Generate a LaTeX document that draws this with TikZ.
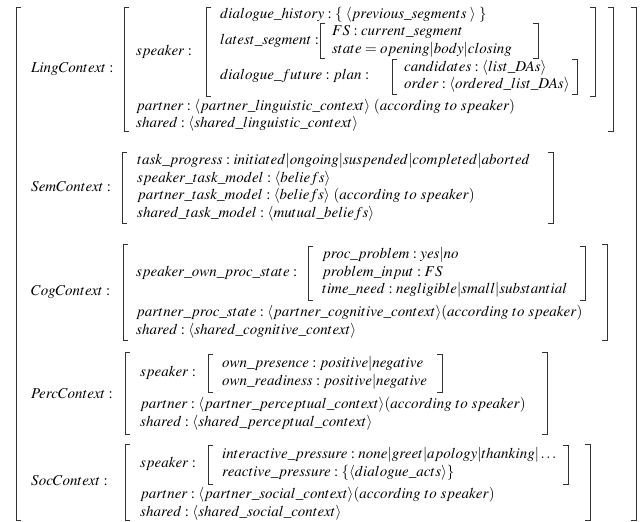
\documentclass[tikz,border=0pt]{standalone}
\usepackage{mathptmx}
\usepackage{fontspec}
\setmainfont{Liberation Serif}
\usepackage{tikz}

\begin{document}
\begin{tikzpicture}[
        x=1pt, y=-1pt,
        avm/.style={anchor=west, inner sep=0pt, font=\fontsize{15}{17}\selectfont},
        brk/.style={line width=0.7pt, black!80}
    ]
        \useasboundingbox (0,0) rectangle (641,522);

        % outer matrix
        \draw[brk] (21,7) -| (16,520) -- (21,520);
        \draw[brk] (631,7) -| (636,520) -- (631,520);

        % linguistic context
        \node[avm] (ling) at (31,69) {$LingContext :$};
        \draw[brk] (129,7) -| (124,131) -- (129,131);
        \draw[brk] (608,7) -| (613,131) -- (608,131);
        \node[avm] (lingspk) at (136,52) {$speaker :$};
        \draw[brk] (211,7) -| (206,96) -- (211,96);
        \draw[brk] (590,7) -| (595,96) -- (590,96);
        \node[avm] (dhist) at (220,15) {$dialogue\_history : \{\;\langle previous\_segments\;\rangle\;\}$};
        \node[avm] (latest) at (220,40.5) {$latest\_segment :$};
        \draw[brk] (325,23) -| (320,58) -- (325,58);
        \draw[brk] (533,23) -| (538,58) -- (533,58);
        \node[avm] (fs) at (332,32) {$FS : current\_segment$};
        \node[avm] (state) at (332,49.5) {$state = opening|body|closing$};
        \node[avm] (future) at (220,76) {$dialogue\_future : plan :$};
        \draw[brk] (397,59) -| (392,94) -- (397,94);
        \draw[brk] (572,59) -| (577,94) -- (572,94);
        \node[avm] (cand) at (404,67.5) {$candidates : \langle list\_DAs\rangle$};
        \node[avm] (order) at (404,85) {$order : \langle ordered\_list\_DAs\rangle$};
        \node[avm] (lingpart) at (136,107) {$partner : \langle partner\_linguistic\_context\rangle\ (according\ to\ speaker)$};
        \node[avm] (lingshr) at (136,124) {$shared : \langle shared\_linguistic\_context\rangle$};

        % semantic context
        \node[avm] (sem) at (31,187) {$SemContext :$};
        \draw[brk] (127,152) -| (122,223) -- (127,223);
        \draw[brk] (548,152) -| (553,223) -- (548,223);
        \node[avm] (prog) at (137,161) {$task\_progress : initiated|ongoing|suspended|completed|aborted$};
        \node[avm] (spkmodel) at (137,178.5) {$speaker\_task\_model : \langle beliefs\rangle$};
        \node[avm] (partmodel) at (137,196) {$partner\_task\_model : \langle beliefs\rangle\ (according\ to\ speaker)$};
        \node[avm] (shrmodel) at (137,213.5) {$shared\_task\_model : \langle mutual\_beliefs\rangle$};

        % cognitive context
        \node[avm] (cog) at (31,292) {$CogContext :$};
        \draw[brk] (128,244) -| (123,340) -- (128,340);
        \draw[brk] (602,244) -| (607,340) -- (602,340);
        \node[avm] (ownproc) at (136,272.5) {$speaker\_own\_proc\_state :$};
        \draw[brk] (313,246) -| (308,300) -- (313,300);
        \draw[brk] (580,246) -| (585,300) -- (580,300);
        \node[avm] (procprob) at (322,255) {$proc\_problem : yes|no$};
        \node[avm] (probin) at (322,272.5) {$problem\_input : FS$};
        \node[avm] (timeneed) at (322,290) {$time\_need : negligible|small|substantial$};
        \node[avm] (partproc) at (136,313) {$partner\_proc\_state : \langle partner\_cognitive\_context\rangle(according\ to\ speaker)$};
        \node[avm] (cogshr) at (136,331) {$shared : \langle shared\_cognitive\_context\rangle$};

        % perceptual context
        \node[avm] (perc) at (31,394) {$PercContext :$};
        \draw[brk] (130,352) -| (125,434) -- (130,434);
        \draw[brk] (542,352) -| (547,434) -- (542,434);
        \node[avm] (percspk) at (140,373) {$speaker :$};
        \draw[brk] (213,354) -| (208,392) -- (213,392);
        \draw[brk] (437,354) -| (442,392) -- (437,392);
        \node[avm] (presence) at (222,364) {$own\_presence : positive|negative$};
        \node[avm] (readiness) at (222,381.5) {$own\_readiness : positive|negative$};
        \node[avm] (percpart) at (140,405) {$partner : \langle partner\_perceptual\_context\rangle(according\ to\ speaker)$};
        \node[avm] (percshr) at (140,423) {$shared : \langle shared\_perceptual\_context\rangle$};

        % social context
        \node[avm] (soc) at (31,481) {$SocContext :$};
        \draw[brk] (130,444) -| (125,520) -- (130,520);
        \draw[brk] (585,444) -| (590,520) -- (585,520);
        \node[avm] (socspk) at (140,464) {$speaker :$};
        \draw[brk] (213,445) -| (208,484) -- (213,484);
        \draw[brk] (563,445) -| (568,484) -- (563,484);
        \node[avm] (interact) at (222,455) {$interactive\_pressure : none|greet|apology|thanking|\ldots$};
        \node[avm] (react) at (222,472.5) {$reactive\_pressure : \{\langle dialogue\_acts\rangle\}$};
        \node[avm] (socpart) at (140,495) {$partner : \langle partner\_social\_context\rangle(according\ to\ speaker)$};
        \node[avm] (socshr) at (140,512.5) {$shared : \langle shared\_social\_context\rangle$};
    \end{tikzpicture}
\end{document}
